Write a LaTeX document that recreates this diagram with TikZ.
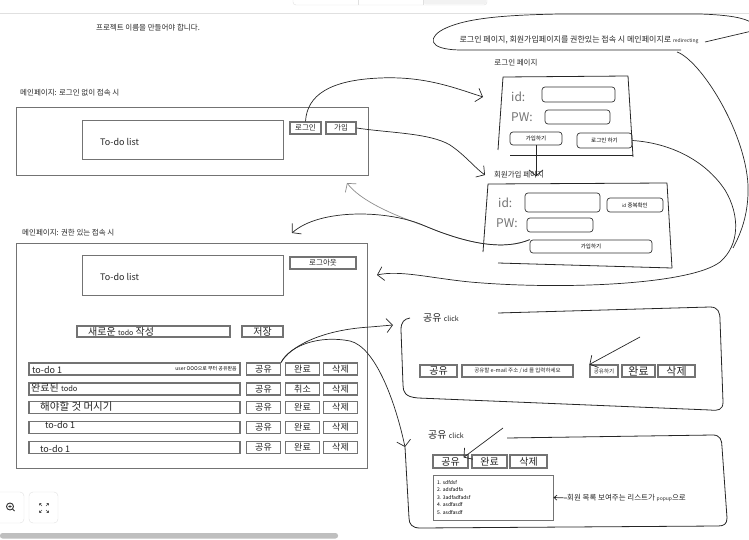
\documentclass[tikz,border=0pt]{standalone}
\usepackage{fontspec}
\setmainfont{Noto Sans CJK KR}
\usepackage{tikz}
\usetikzlibrary{arrows.meta}
\newcommand{\fsz}[1]{\fontsize{#1}{#1}\selectfont}
\colorlet{boxgray}{black!55}
\colorlet{uiline}{black!12}
\tikzset{
  lbl/.style={font=\fsz{7.5}, inner sep=0pt, text=black!85},
  page/.style={draw=boxgray, line width=1pt, inner sep=0pt},
  btn/.style={draw=boxgray, line width=1.1pt, inner sep=0pt, font=\fsz{9}, text=black!85},
  rowbtn/.style={btn, minimum width=34pt, minimum height=12pt},
  field/.style={draw=black!80, line width=0.7pt, rounded corners=3pt, inner sep=0pt, font=\fsz{5.5}},
  hand/.style={font=\fsz{12}, text=black!55, inner sep=0pt, anchor=west},
  rowtxt/.style={font=\fsz{9}, inner sep=0pt, anchor=west, text=black!85},
  pen/.style={draw=black!85, line width=0.7pt},
  faint/.style={draw=black!45, line width=0.7pt},
  sketch/.style={draw=black!85, line width=0.8pt, line join=round}
}

\begin{document}
\begin{tikzpicture}[x=1pt,y=-1pt,>={Straight Barb[length=6pt,width=14pt]}]

      \useasboundingbox (0,0) rectangle (749,540);

      \draw[uiline] (0,13) -- (749,13);
      \draw[uiline, fill=white, rounded corners=3pt] (293,-6) rectangle (487,5);
      \fill[black!5, rounded corners=3pt] (423.5,-5.5) rectangle (486.5,4.5);
      \draw[uiline] (358,-6) -- (358,5) (423,-6) -- (423,5);

      \node[lbl] (title) at (148,28) {프로젝트 이름을 만들어야 합니다.};

      \draw[pen] (681,50) -- (462,50) .. controls (425,50) and (428,36) .. (446,28)
      .. controls (468,18) and (505,15) .. (560,14) -- (700,14) .. controls (730,15) and (745,18) .. (752,23);
      \draw[pen] (752,31) -- (705,42);
      \node[lbl, font=\fsz{8}] (redirect) at (579,40) {로그인 페이지, 회원가입페이지를 권한있는 접속 시 메인페이지로 {\fsz{5}redirecting}};

      \node[lbl, anchor=west] (guestlbl) at (20,93) {메인페이지: 로그인 없이 접속 시};
      \node[page, minimum width=352pt, minimum height=68pt] (guest) at (192,142) {};
      \node[page, minimum width=201pt, minimum height=39pt] (guestlist) at (182.5,140.5) {};
      \node[rowtxt] (guestlisttxt) at (100,142) {To-do list};
      \node[btn, font=\fsz{7.5}, minimum width=31pt, minimum height=12pt] (loginbtn) at (305.5,128) {로그인};
      \node[btn, font=\fsz{7.5}, minimum width=30pt, minimum height=12pt] (joinbtn) at (341,128) {가입};

      \node[lbl, anchor=west] (userlbl) at (22,233) {메인페이지: 권한 있는 접속 시};
      \node[page, minimum width=351pt, minimum height=225pt] (user) at (191.5,355.5) {};
      \node[page, minimum width=201pt, minimum height=40pt] (userlist) at (182.5,275) {};
      \node[rowtxt] (userlisttxt) at (100,277) {To-do list};
      \node[btn, font=\fsz{7.5}, minimum width=66pt, minimum height=12pt] (logoutbtn) at (323,263) {로그아웃};
      \node[btn, minimum width=153pt, minimum height=11pt] (newtodo) at (153.5,331.5) {};
      \node[rowtxt, font=\fsz{10}] (newtodotxt) at (88,331.5) {새로운 {\fsz{7}todo} 작성};
      \node[btn, font=\fsz{10}, minimum width=41pt, minimum height=11pt] (savebtn) at (262.5,331.5) {저장};

      \node[btn, minimum width=211pt, minimum height=12pt] (todoA) at (134.5,369) {};
      \node[rowtxt] (todoAtxt) at (32,370) {to-do 1};
      \node[anchor=east, inner sep=0pt, font=\fsz{5}] (todoAnote) at (237,369) {user OOO으로 부터 공유받음};
      \node[rowbtn] (shareA) at (263.5,369) {공유};
      \node[rowbtn] (doneA) at (302.5,369) {완료};
      \node[rowbtn] (delA) at (340.5,369) {삭제};

      \node[btn, minimum width=211pt, minimum height=12pt] (todoB) at (134.5,389) {};
      \node[rowtxt, font=\fsz{10}] (todoBtxt) at (31,388) {완료된 {\fsz{7.5}todo}};
      \node[rowbtn] (shareB) at (263.5,389) {공유};
      \node[rowbtn] (undoB) at (302.5,389) {취소};
      \node[rowbtn] (delB) at (340.5,389) {삭제};

      \node[btn, minimum width=211pt, minimum height=12pt] (todoC) at (134.5,407.5) {};
      \node[rowtxt, font=\fsz{10.5}] (todoCtxt) at (40,406.5) {해야할 것 머시기};
      \node[rowbtn] (shareC) at (263.5,407.5) {공유};
      \node[rowbtn] (doneC) at (302.5,407.5) {완료};
      \node[rowbtn] (delC) at (340.5,407.5) {삭제};

      \node[btn, minimum width=211pt, minimum height=12pt] (todoD) at (134.5,427.5) {};
      \node[rowtxt] (todoDtxt) at (45,424.5) {to-do 1};
      \node[rowbtn] (shareD) at (263.5,427.5) {공유};
      \node[rowbtn] (doneD) at (302.5,427.5) {완료};
      \node[rowbtn] (delD) at (340.5,427.5) {삭제};

      \node[btn, minimum width=211pt, minimum height=12pt] (todoE) at (134.5,447.5) {};
      \node[rowtxt] (todoEtxt) at (40,449) {to-do 1};
      \node[rowbtn] (shareE) at (263.5,447.5) {공유};
      \node[rowbtn] (doneE) at (302.5,447.5) {완료};
      \node[rowbtn] (delE) at (340.5,447.5) {삭제};

      \node[lbl] (loginlbl) at (516,63) {로그인 페이지};
      \draw[sketch] (498,150) -- (503,77) -- (628,76) -- (633,157);
      \draw[sketch] (510,155) -- (633,155);
      \node[hand] (loginid) at (511,97) {id:};
      \node[field, minimum width=73pt, minimum height=15pt] (loginidbox) at (578.5,94.5) {};
      \node[hand] (loginpw) at (511,117) {PW:};
      \node[field, minimum width=65pt, minimum height=14pt] (loginpwbox) at (577.5,117) {};
      \node[field, minimum width=52pt, minimum height=13pt] (loginjoin) at (536,138.5) {가입하기};
      \node[field, minimum width=55pt, minimum height=15pt] (logingo) at (604.5,140.5) {로그인 하기};

      \node[lbl] (signuplbl) at (519,175) {회원가입 페이지};
      \draw[sketch] (483,252) -- (488,184) -- (667,183) -- (672,268);
      \draw[sketch] (498,263) -- (672,268);
      \node[hand] (signupid) at (498,203) {id:};
      \node[field, minimum width=75pt, minimum height=19pt] (signupidbox) at (562.5,202.5) {};
      \node[field, minimum width=56pt, minimum height=14pt] (idcheck) at (635,205) {{\fsz{4.5}id} 중복확인};
      \node[hand] (signuppw) at (496,223) {PW:};
      \node[field, minimum width=66pt, minimum height=14pt] (signuppwbox) at (560,225) {};
      \node[field, minimum width=122pt, minimum height=13pt] (signupgo) at (591,246.5) {가입하기};

      \node[rowtxt, font=\fsz{10}] (share1lbl) at (423,318) {공유 {\fsz{7}click}};
      \draw[sketch] (498,313) -- (710,307) .. controls (718,307) and (720,312) .. (720,320) -- (723,402)
      .. controls (723,410) and (718,411) .. (710,410) -- (418,398) .. controls (405,397) and (403,392) .. (403,385)
      -- (401,330) .. controls (401,322) and (404,319) .. (410,318);
      \node[btn, font=\fsz{10}, minimum width=37pt, minimum height=12pt] (pshare) at (438.5,371) {공유};
      \node[btn, font=\fsz{5.5}, minimum width=111pt, minimum height=12pt] (pmail) at (517.5,371) {공유할 e-mail 주소 / id 를 입력하세요};
      \node[btn, font=\fsz{5.5}, minimum width=28pt, minimum height=12pt] (psend) at (604,371) {공유하기};
      \node[btn, font=\fsz{11}, minimum width=33pt, minimum height=12pt] (pdone) at (638.5,371) {완료};
      \node[btn, font=\fsz{11}, minimum width=37pt, minimum height=12pt] (pdel) at (676.5,371) {삭제};
      \coordinate (hint1) at (640,337);
      \draw[pen,->] (hint1) -- (psend.north west);

      \node[rowtxt, font=\fsz{10}] (share2lbl) at (428,435) {공유 {\fsz{7}click}};
      \draw[sketch] (507,438) -- (713,435) .. controls (720,435) and (722,440) .. (722,447) -- (727,518)
      .. controls (727,524) and (724,526) .. (718,526) -- (420,528) .. controls (412,528) and (409,524) .. (409,518)
      -- (405,447);
      \node[btn, font=\fsz{10}, minimum width=35pt, minimum height=13pt] (qshare) at (450.5,461.5) {공유};
      \node[btn, font=\fsz{10}, minimum width=35pt, minimum height=13pt] (qdone) at (489.5,461.5) {완료};
      \node[btn, font=\fsz{10}, minimum width=37pt, minimum height=13pt] (qdel) at (528.5,461.5) {삭제};
      \coordinate (hint2) at (503,428);
      \draw[pen,->] (hint2) -- ([xshift=-5pt,yshift=-3pt]qshare.north east);
      \node[page, line width=0.9pt, minimum width=120pt, minimum height=45pt] (popup) at (493,497.5) {};
      \node[anchor=west, align=left, inner sep=0pt, font=\fontsize{5}{7.5}\selectfont] (popupitems) at (437,497.5)
      {1. sdfdsf\\2. adsfadfa\\3. 3adfadfadsf\\4. asdfasdf\\5. asdfasdf};
      \node[lbl, anchor=west] (popupnote) at (567,498) {회원 목록 보여주는 리스트가 {\fsz{5}popup}으로};
      \draw[pen,-{Straight Barb[length=3pt,width=5pt]}] (popupnote.west) -- (popup.east);

      \coordinate (loginTip) at (483,97);
      \draw[pen,->] (loginbtn.north) .. controls (307,95) and (330,80) .. (380,78) .. controls (425,76) and (455,88) .. (loginTip);
      \coordinate (signupTip) at (485,175);
      \draw[pen,->] (joinbtn.east) .. controls (390,133) and (430,133) .. (450,145) .. controls (465,155) and (475,168) .. (signupTip);
      \draw[pen,->] (loginjoin.south) -- ++(0,31);

      \coordinate (userTip) at (377,275);
      \draw[pen,->] (logingo.east) .. controls (670,143) and (705,160) .. (725,190) .. controls (740,215) and (740,245) .. (720,262)
      .. controls (690,285) and (560,290) .. (470,282) .. controls (430,278) and (400,270) .. (userTip);
      \draw[pen] (677,52) .. controls (700,60) and (745,130) .. (748,185) .. controls (749,215) and (740,235) .. (733,248);

      \coordinate (guestTip) at (347,183);
      \draw[faint,->] (signupgo.north west) .. controls (505,250) and (470,245) .. (425,226) .. controls (390,214) and (360,200) .. (guestTip);
      \coordinate (authTip) at (292,233);
      \draw[pen,->] (signupgo.north west) .. controls (505,250) and (470,245) .. (425,226) .. controls (390,210) and (320,208) .. (authTip);

      \coordinate (panel1Tip) at (393,325);
      \draw[pen,->] (shareA.north east) .. controls (290,347) and (320,330) .. (370,327) -- (panel1Tip);
      \coordinate (panel2Tip) at (405,447);
      \draw[pen,->] (shareA.north east) .. controls (290,345) and (320,335) .. (350,341) .. controls (375,347) and (395,400) .. (panel2Tip);

      \draw[uiline, rounded corners=4pt] (-5,492) rectangle (24,523);
      \draw[uiline, rounded corners=4pt] (29,492) rectangle (58,523);
      \draw[black!80, line width=0.9pt] (10,506.5) circle[radius=3.5pt];
      \draw[black!80, line width=0.8pt] (8.3,506.5) -- (11.7,506.5) (10,504.8) -- (10,508.2) (12.6,509.1) -- (14.5,511);
      \draw[black!70, line width=0.6pt] (39.5,503.5) -- (42,506) (39.5,503.5) -- (41.3,503.5) (39.5,503.5) -- (39.5,505.3)
      (48.5,503.5) -- (46,506) (48.5,503.5) -- (46.7,503.5) (48.5,503.5) -- (48.5,505.3)
      (39.5,512.5) -- (42,510) (39.5,512.5) -- (41.3,512.5) (39.5,512.5) -- (39.5,510.7)
      (48.5,512.5) -- (46,510) (48.5,512.5) -- (46.7,512.5) (48.5,512.5) -- (48.5,510.7);
      \fill[black!25, rounded corners=2.5pt] (0,533) rectangle (338,538.5);

\end{tikzpicture}
\end{document}
